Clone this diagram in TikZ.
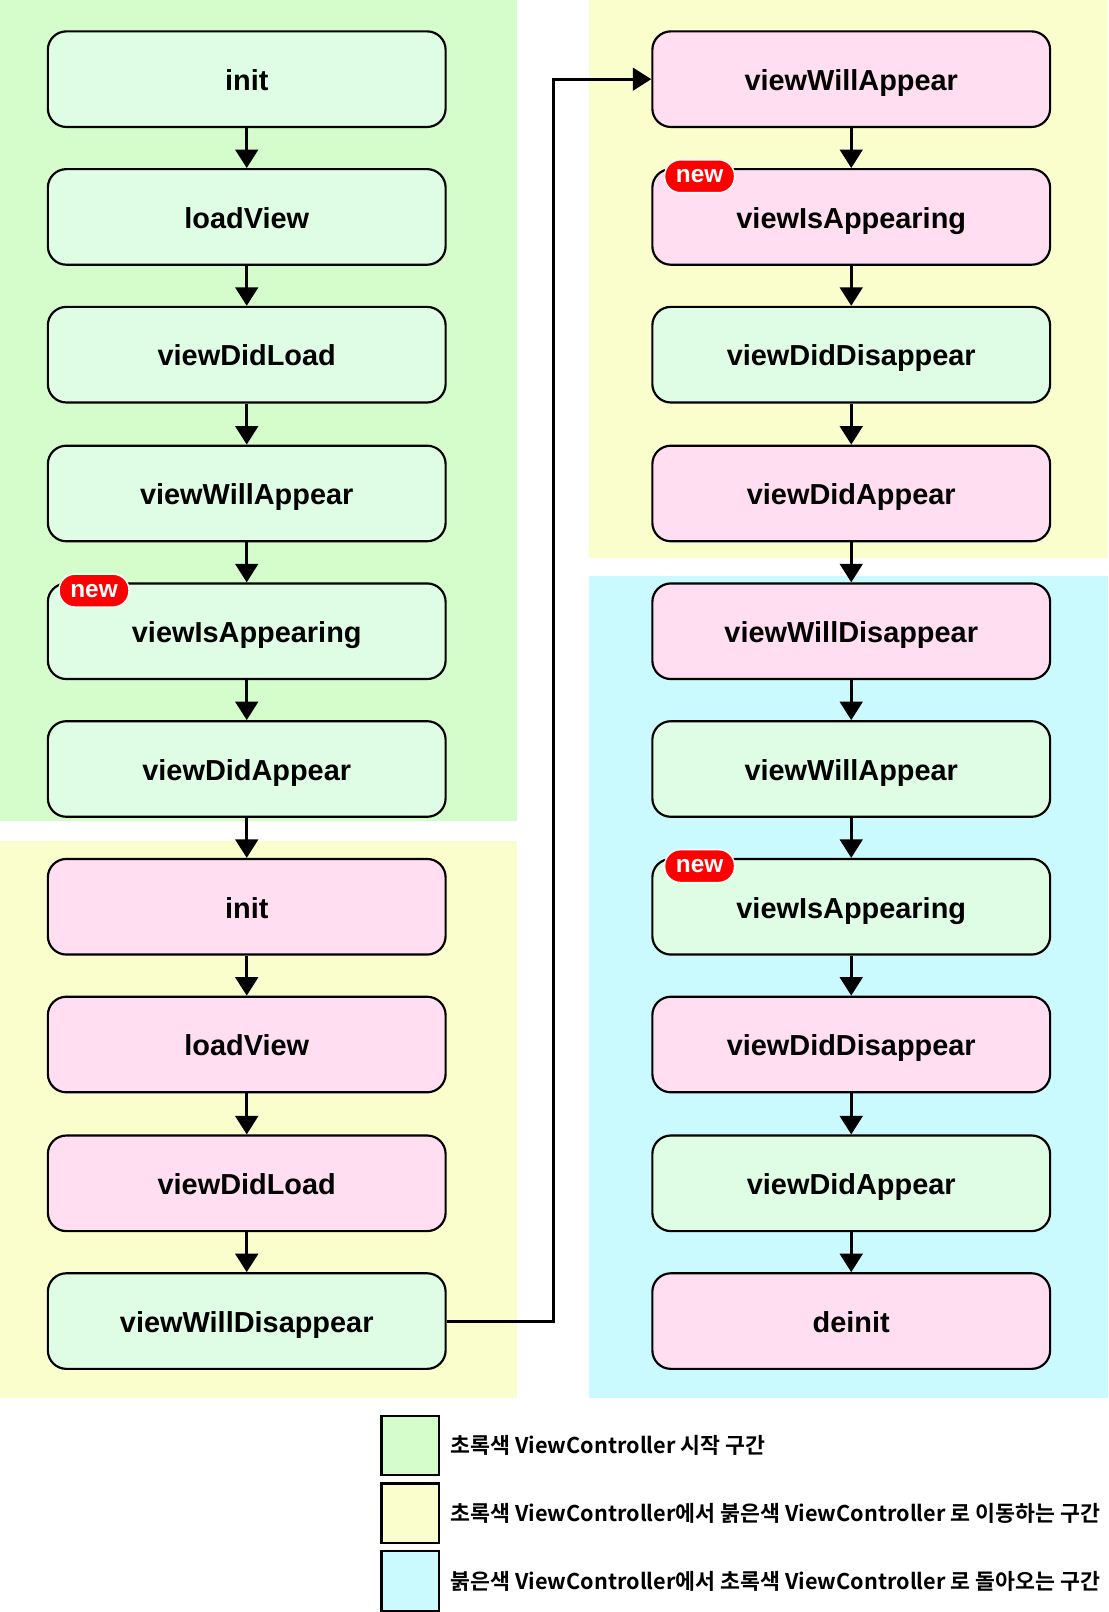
\documentclass[tikz,border=0pt]{standalone}
\usepackage{fontspec}
\setmainfont{Liberation Sans}
\newfontfamily\kofont{Noto Sans CJK KR}[BoldFont={Noto Sans CJK KR Bold}]
\usepackage{tikz}
\usepackage{xcolor}
\usetikzlibrary{calc}
\usetikzlibrary{positioning}
\usetikzlibrary{arrows.meta}

\definecolor{bggreen}{RGB}{213,253,203}
\definecolor{bgyellow}{RGB}{250,254,204}
\definecolor{bgcyan}{RGB}{203,250,254}
\definecolor{boxgreen}{RGB}{223,253,228}
\definecolor{boxpink}{RGB}{254,222,240}
\definecolor{tagred}{RGB}{255,0,0}

\tikzset{
  box/.style={draw=black, line width=1.2pt, rounded corners=0.36cm,
    minimum width=7.74cm, minimum height=1.86cm, text height=14pt, text depth=1.5pt,
    font=\fontsize{16}{19}\selectfont\bfseries},
  greenbox/.style={box, fill=boxgreen},
  pinkbox/.style={box, fill=boxpink},
  flow/.style={line width=1.7pt, -{Triangle[length=0.36cm,width=0.44cm]}},
  newtag/.style={fill=tagred, draw=white, line width=0.8pt, rounded corners=0.31cm,
    text=white, minimum width=1.36cm, minimum height=0.64cm, inner sep=0pt,
    font=\fontsize{13.5}{15}\selectfont\bfseries},
  swatch/.style={draw=black, line width=1.2pt, minimum width=1.12cm, minimum height=1.16cm},
  legtext/.style={anchor=west, font=\kofont\fontsize{12}{14}\selectfont\bfseries}
}

\begin{document}
\begin{tikzpicture}[x=0.02cm,y=-0.02cm]
\useasboundingbox (0,0) rectangle (1078,1568);

% regions
\fill[bggreen] (0,0) rectangle (503,799);
\fill[bgyellow] (0,818) rectangle (503,1360);
\fill[bgyellow] (573,0) rectangle (1078,543);
\fill[bgcyan] (573,560) rectangle (1078,1360);

% green ViewController start
\node[greenbox] (aInit) at (240,77) {init};
\node[greenbox] (aLoadView) at (240,211) {loadView};
\node[greenbox] (aDidLoad) at (240,345) {viewDidLoad};
\node[greenbox] (aWillAppear) at (240,480) {viewWillAppear};
\node[greenbox] (aIsAppearing) at (240,614) {viewIsAppearing};
\node[greenbox] (aDidAppear) at (240,748) {viewDidAppear};

% green -> red
\node[pinkbox] (bInit) at (240,882) {init};
\node[pinkbox] (bLoadView) at (240,1016) {loadView};
\node[pinkbox] (bDidLoad) at (240,1151) {viewDidLoad};
\node[greenbox] (bWillDisappear) at (240,1285) {viewWillDisappear};
\node[pinkbox] (cWillAppear) at (828,77) {viewWillAppear};
\node[pinkbox] (cIsAppearing) at (828,211) {viewIsAppearing};
\node[greenbox] (cDidDisappear) at (828,345) {viewDidDisappear};
\node[pinkbox] (cDidAppear) at (828,480) {viewDidAppear};

% red -> green
\node[pinkbox] (dWillDisappear) at (828,614) {viewWillDisappear};
\node[greenbox] (dWillAppear) at (828,748) {viewWillAppear};
\node[greenbox] (dIsAppearing) at (828,882) {viewIsAppearing};
\node[pinkbox] (dDidDisappear) at (828,1016) {viewDidDisappear};
\node[greenbox] (dDidAppear) at (828,1151) {viewDidAppear};
\node[pinkbox] (dDeinit) at (828,1285) {deinit};

\foreach \a/\b in {aInit/aLoadView,aLoadView/aDidLoad,aDidLoad/aWillAppear,
  aWillAppear/aIsAppearing,aIsAppearing/aDidAppear,aDidAppear/bInit,
  bInit/bLoadView,bLoadView/bDidLoad,bDidLoad/bWillDisappear,
  cWillAppear/cIsAppearing,cIsAppearing/cDidDisappear,cDidDisappear/cDidAppear,
  cDidAppear/dWillDisappear,dWillDisappear/dWillAppear,dWillAppear/dIsAppearing,
  dIsAppearing/dDidDisappear,dDidDisappear/dDidAppear,dDidAppear/dDeinit}
{
  \draw[flow] (\a.south) -- (\b.north);
}
\coordinate (turn) at (538,700);
\draw[flow] (bWillDisappear.east) -| (turn) |- (cWillAppear.west);

% new tags
\node[newtag] (newA) at ([shift={(46,8)}]aIsAppearing.north west) {new};
\node[newtag] (newC) at ([shift={(47,8)}]cIsAppearing.north west) {new};
\node[newtag] (newD) at ([shift={(47,8)}]dIsAppearing.north west) {new};

% legend
\node[swatch, fill=bggreen] (legA) at (399,1406) {};
\node[swatch, fill=bgyellow] (legB) at (399,1472) {};
\node[swatch, fill=bgcyan] (legC) at (399,1538) {};
\node[legtext] (legAtext) at (432,1406) {초록색 ViewController 시작 구간};
\node[legtext] (legBtext) at (432,1472) {초록색 ViewController에서 붉은색 ViewController 로 이동하는 구간};
\node[legtext] (legCtext) at (432,1538) {붉은색 ViewController에서 초록색 ViewController 로 돌아오는 구간};
\end{tikzpicture}
\end{document}
